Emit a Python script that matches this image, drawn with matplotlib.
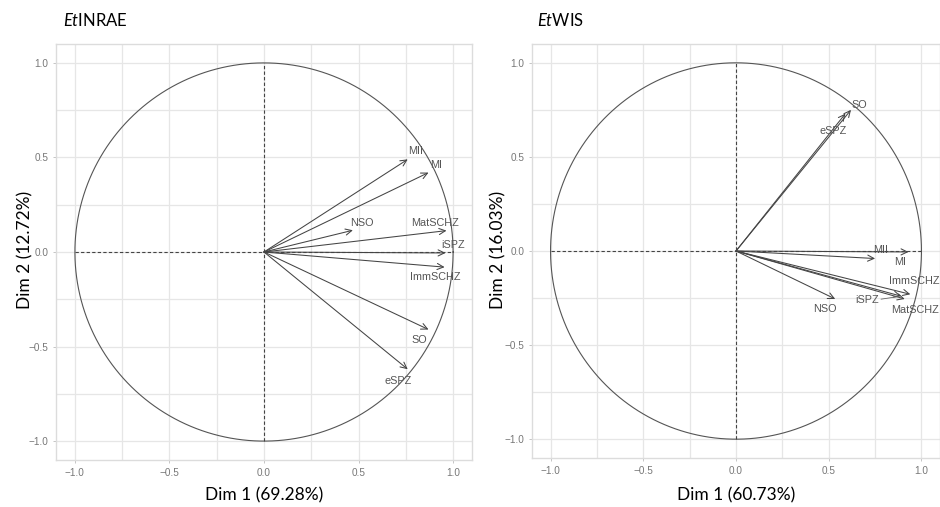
import matplotlib
matplotlib.use("Agg")
import matplotlib.pyplot as plt
import numpy as np

plt.rcParams["mathtext.fontset"] = "custom"
plt.rcParams["mathtext.it"] = "Lato:italic"
plt.rcParams["mathtext.rm"] = "Lato"

# variable loadings
vars_inrae = ["MII", "MI", "NSO", "MatSCHZ", "iSPZ", "ImmSCHZ", "SO", "eSPZ"]
dim1_inrae = [0.76, 0.87, 0.47, 0.965, 0.96, 0.955, 0.87, 0.76]
dim2_inrae = [0.49, 0.42, 0.115, 0.113, -0.005, -0.08, -0.41, -0.62]

vars_wis = ["SO", "eSPZ", "MII", "MI", "ImmSCHZ", "MatSCHZ", "iSPZ", "NSO"]
dim1_wis = [0.62, 0.59, 0.75, 0.93, 0.94, 0.91, 0.89, 0.535]
dim2_wis = [0.75, 0.73, -0.04, -0.005, -0.23, -0.255, -0.24, -0.255]

titles = ["INRAE", "WIS"]
xlabels = ["Dim 1 (69.28%)", "Dim 1 (60.73%)"]
ylabels = ["Dim 2 (12.72%)", "Dim 2 (16.03%)"]
ticks = [-1.0, -0.5, 0.0, 0.5, 1.0]

# label offsets in pixels from arrow tip
offs_inrae = [(8, 8), (8, 8), (9, 7), (-11, 8), (8, 8), (-9, -10), (-9, -10), (-10, -12)]
offs_wis = [(8, 5), (-12, -17), (6, 9), (-8, -10), (4, 13), (10, -11), (-34, -4), (-10, -10)]

px = 1 / 100
fig = plt.figure(figsize=(940 * px, 507 * px), dpi=100)
ax_left = fig.add_axes([56 / 940, 47 / 507, 416 / 940, 416 / 507])
ax_right = fig.add_axes([532 / 940, 49 / 507, 408 / 940, 414 / 507])

panels = [
    (ax_left, vars_inrae, dim1_inrae, dim2_inrae, offs_inrae),
    (ax_right, vars_wis, dim1_wis, dim2_wis, offs_wis),
]

theta = np.linspace(0, 2 * np.pi, 400)
for k, (ax, names, d1, d2, offs) in enumerate(panels):
    ax.set_xlim(-1.1, 1.1)
    ax.set_ylim(-1.1, 1.1)
    ax.set_xticks(ticks)
    ax.set_yticks(ticks)
    ax.set_xticks([-0.75, -0.25, 0.25, 0.75], minor=True)
    ax.set_yticks([-0.75, -0.25, 0.25, 0.75], minor=True)
    ax.grid(True, which="both", color="#e6e6e6", lw=0.9)
    ax.set_axisbelow(True)
    for s in ax.spines.values():
        s.set_color("#dcdcdc")
        s.set_linewidth(1.0)
    ax.tick_params(which="major", length=2.5, width=0.6, color="#bbbbbb",
                   labelsize=7.2, labelcolor="#777777", pad=3)
    ax.tick_params(which="minor", length=0)
    for lab in ax.get_xticklabels() + ax.get_yticklabels():
        lab.set_family("Liberation Sans")

    ax.plot(np.cos(theta), np.sin(theta), color="#555555", lw=0.8)
    ax.plot([-1, 1], [0, 0], color="#444444", lw=0.8, ls=(0, (3, 2)))
    ax.plot([0, 0], [-1, 1], color="#444444", lw=0.8, ls=(0, (3, 2)))

    for name, x, y, (dx, dy) in zip(names, d1, d2, offs):
        ax.annotate("", xy=(x, y), xytext=(0, 0),
                    arrowprops=dict(arrowstyle="->,head_length=0.45,head_width=0.22",
                                    color="#444444", lw=0.75, shrinkA=0, shrinkB=0))
        ax.annotate(name, xy=(x, y), xytext=(dx, dy), textcoords="offset pixels",
                    ha="center", va="center", fontsize=7.8, color="#555555",
                    family="Liberation Sans")
    if k == 1:
        # short leader from the iSPZ label to its arrow
        i = names.index("iSPZ")
        ax.annotate("", xy=(d1[i], d2[i]), xytext=(-20, -3), textcoords="offset pixels",
                    arrowprops=dict(arrowstyle="-", color="#666666", lw=0.6,
                                    shrinkA=0, shrinkB=2))

fig.text(63 / 940, 1 - 26 / 507, r"$\mathit{Et}$" + titles[0], fontsize=12,
         family="Lato", va="baseline")
fig.text(537 / 940, 1 - 26 / 507, r"$\mathit{Et}$" + titles[1], fontsize=12,
         family="Lato", va="baseline")
fig.text(264 / 940, 1 - 495 / 507, xlabels[0], fontsize=12.5, family="Lato",
         ha="center", va="center")
fig.text(736 / 940, 1 - 495 / 507, xlabels[1], fontsize=12.5, family="Lato",
         ha="center", va="center")
fig.text(25 / 940, 1 - 250 / 507, ylabels[0], fontsize=12.5, family="Lato",
         ha="center", va="center", rotation=90)
fig.text(498 / 940, 1 - 250 / 507, ylabels[1], fontsize=12.5, family="Lato",
         ha="center", va="center", rotation=90)

fig.savefig("out.png", dpi=100)
